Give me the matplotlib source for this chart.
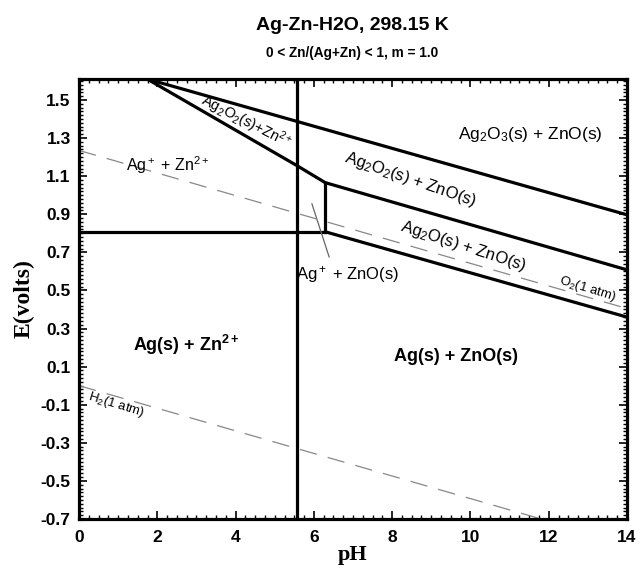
import matplotlib
matplotlib.use("Agg")
import matplotlib.pyplot as plt
from matplotlib.ticker import MultipleLocator, FixedLocator

# ---- data (pH, E in volts) ----
vert_ph = [5.57, 5.57]
vert_E = [-0.7, 1.61]
agzn_ph = [0.0, 6.29]
agzn_E = [0.808, 0.808]
ag2o3_ph = [1.74, 14.0]
ag2o3_E = [1.61, 0.897]
ag2o2_ph = [1.74, 5.57, 6.29, 14.0]
ag2o2_E = [1.61, 1.155, 1.066, 0.608]
ag2o_ph = [6.29, 14.0]
ag2o_E = [0.808, 0.360]
short_ph = [6.29, 6.29]
short_E = [0.808, 1.066]
thin_ph = [5.95, 6.39]
thin_E = [0.955, 0.676]
o2_ph = [0.0, 14.0]
o2_E = [1.235, 0.405]
h2_ph = [0.0, 14.0]
h2_E = [0.0, -0.83]

xticks = [0, 2, 4, 6, 8, 10, 12, 14]
yticks = [-0.7, -0.5, -0.3, -0.1, 0.1, 0.3, 0.5, 0.7, 0.9, 1.1, 1.3, 1.5]

plt.rcParams['font.family'] = ['Liberation Sans Narrow', 'Liberation Sans', 'DejaVu Sans']
plt.rcParams['mathtext.fontset'] = 'custom'
plt.rcParams['mathtext.rm'] = 'Liberation Sans'
plt.rcParams['mathtext.it'] = 'Liberation Sans:italic'
plt.rcParams['mathtext.bf'] = 'Liberation Sans:bold'

fig = plt.figure(figsize=(6.39, 5.74), dpi=100)
ax = fig.add_axes([79/639, 55/574, 548/639, 440/574])

lw = 2.3
ax.plot(vert_ph, vert_E, color='black', lw=lw)
ax.plot(agzn_ph, agzn_E, color='black', lw=lw)
ax.plot(ag2o3_ph, ag2o3_E, color='black', lw=lw, solid_joinstyle='miter')
ax.plot(ag2o2_ph, ag2o2_E, color='black', lw=lw, solid_joinstyle='miter')
ax.plot(ag2o_ph, ag2o_E, color='black', lw=lw)
ax.plot(short_ph, short_E, color='black', lw=lw)
ax.plot(thin_ph, thin_E, color='#666666', lw=0.9)
ax.plot(o2_ph, o2_E, color='#888888', lw=0.9, dashes=(14, 9))
ax.plot(h2_ph, h2_E, color='#888888', lw=0.9, dashes=(14, 9))

ax.set_xlim(0, 14)
ax.set_ylim(-0.7, 1.61)
ax.xaxis.set_major_locator(FixedLocator(xticks))
ax.yaxis.set_major_locator(FixedLocator(yticks))
ax.xaxis.set_minor_locator(MultipleLocator(0.25))
ax.yaxis.set_minor_locator(MultipleLocator(0.02))
ax.tick_params(which='both', direction='in', top=True, right=True, width=1.2)
ax.tick_params(which='major', length=6)
ax.tick_params(which='minor', length=3, width=1.0)
ax.set_yticklabels([f"{v:.1f}" for v in yticks])
for lab in ax.get_xticklabels() + ax.get_yticklabels():
    lab.set_fontweight('bold')
    lab.set_fontsize(12.5)
ax.tick_params(axis='x', pad=8)
ax.tick_params(axis='y', pad=6)
for sp in ax.spines.values():
    sp.set_linewidth(2.3)

ax.set_xlabel('pH', family='Liberation Serif', fontweight='bold', fontsize=16, labelpad=0)
ax.set_ylabel('E(volts)', family='Liberation Serif', fontweight='bold', fontsize=17, labelpad=4)

fig.text(352/639, 1 - 26/574, 'Ag-Zn-H2O, 298.15 K', ha='center', va='center',
         fontweight='bold', fontsize=14)
fig.text(352/639, 1 - 53/574, '0 < Zn/(Ag+Zn) < 1, m = 1.0', ha='center', va='center',
         fontweight='bold', fontsize=9.8)

fs = 12
ax.text(11.52, 1.318, r'Ag$_2$O$_3$(s) + ZnO(s)', ha='center', va='center', fontsize=12.5,
        family='Liberation Sans')
ax.text(4.27, 1.387, r'Ag$_2$O$_2$(s)+Zn$^{2+}$', ha='center', va='center', fontsize=10.5,
        rotation=-27, family='Liberation Sans', rotation_mode='anchor')
ax.text(2.27, 1.16, r'Ag$^+$ + Zn$^{2+}$', ha='center', va='center', fontsize=11.5,
        family='Liberation Sans')
ax.text(8.46, 1.081, r'Ag$_2$O$_2$(s) + ZnO(s)', ha='center', va='center', fontsize=fs,
        rotation=-19, family='Liberation Sans', rotation_mode='anchor')
ax.text(9.81, 0.734, r'Ag$_2$O(s) + ZnO(s)', ha='center', va='center', fontsize=fs,
        rotation=-18, family='Liberation Sans', rotation_mode='anchor')
ax.text(13.0, 0.508, r'O$_2$(1 atm)', ha='center', va='center', fontsize=9.5,
        rotation=-17, family='Liberation Sans', rotation_mode='anchor')
ax.text(6.87, 0.582, r'Ag$^+$ + ZnO(s)', ha='center', va='center', fontsize=fs,
        family='Liberation Sans')
ax.text(2.73, 0.213, r'Ag(s) + Zn$^{\mathbf{2+}}$', ha='center', va='center', fontsize=13,
        fontweight='bold', family='Liberation Sans')
ax.text(9.63, 0.155, 'Ag(s) + ZnO(s)', ha='center', va='center', fontsize=13,
        fontweight='bold', family='Liberation Sans')
ax.text(0.94, -0.102, r'H$_2$(1 atm)', ha='center', va='center', fontsize=9.5,
        rotation=-17, family='Liberation Sans', rotation_mode='anchor')

fig.savefig('out.png', dpi=100)
